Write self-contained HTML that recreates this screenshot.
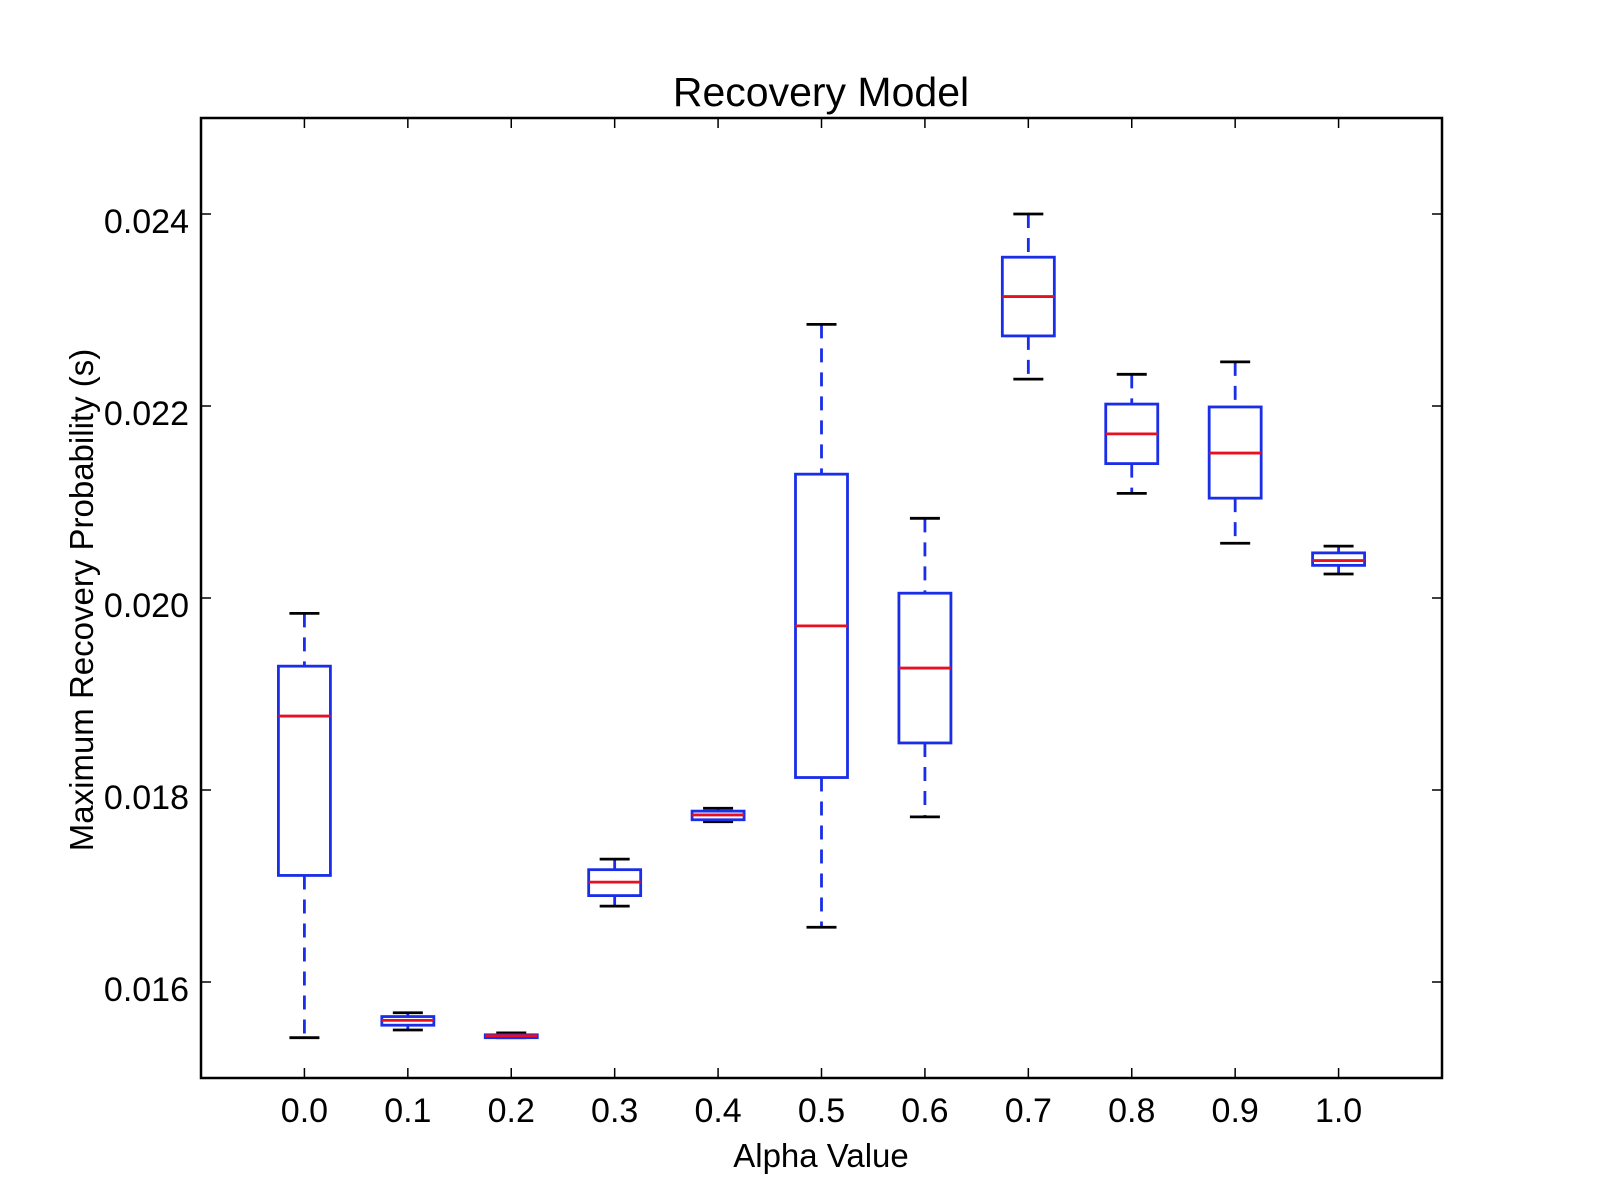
<!DOCTYPE html>
<html><head><meta charset="utf-8"><style>
html,body{margin:0;padding:0;background:#fff;}
svg{display:block;font-family:"Liberation Sans",sans-serif;}
</style></head><body>
<svg id="chart" width="1600" height="1200" viewBox="0 0 1600 1200" xmlns="http://www.w3.org/2000/svg">
<text x="821" y="106" font-size="41" text-anchor="middle">Recovery Model</text>
<text x="821" y="1167" font-size="33" text-anchor="middle">Alpha Value</text>
<text transform="translate(93,600) rotate(-90)" font-size="33" text-anchor="middle">Maximum Recovery Probability (s)</text>
<g id="ticks"></g>
<g id="boxes"></g>
<rect x="201" y="118" width="1241" height="960" fill="none" stroke="#000" stroke-width="2.5"/>
</svg>
<script>
const categories = ["0.0","0.1","0.2","0.3","0.4","0.5","0.6","0.7","0.8","0.9","1.0"];
const whiskerLow = [0.01542,0.01550,0.01542,0.01679,0.01767,0.01657,0.01772,0.02228,0.02109,0.02057,0.02025];
const q1Values   = [0.01711,0.01555,0.01542,0.01690,0.01769,0.01813,0.01849,0.02273,0.02140,0.02104,0.02034];
const medians    = [0.01877,0.01560,0.01544,0.01704,0.01774,0.01971,0.01927,0.02314,0.02171,0.02151,0.02039];
const q3Values   = [0.01929,0.01564,0.01545,0.01717,0.01778,0.02129,0.02005,0.02355,0.02202,0.02199,0.02047];
const whiskerHigh= [0.01984,0.01568,0.01547,0.01728,0.01781,0.02285,0.02083,0.02400,0.02233,0.02246,0.02054];
const yTicks = [0.016,0.018,0.020,0.022,0.024];
const yTickLabels = ["0.016","0.018","0.020","0.022","0.024"];

const L=201,R=1442,T=118,B=1078;
const yMin=0.015,yMax=0.025;
function y(v){return B-(v-yMin)/(yMax-yMin)*(B-T);}
function x(i){return L+(i+1)/(categories.length+1)*(R-L);}
const NS="http://www.w3.org/2000/svg";
function mk(tag,attrs,parent){const e=document.createElementNS(NS,tag);for(const k in attrs)e.setAttribute(k,attrs[k]);parent.appendChild(e);return e;}
const tg=document.getElementById('ticks'), bg=document.getElementById('boxes');

yTicks.forEach((v,i)=>{
  const yy=y(v);
  let a=mk('line',{x1:L,x2:L+10,y1:yy,y2:yy,stroke:'#000','stroke-width':1.5},tg);
  
  
  let b=mk('line',{x1:R-10,x2:R,y1:yy,y2:yy,stroke:'#000','stroke-width':1.5},tg);
  
  
  let t=mk('text',{x:L-12,y:yy+19,'font-size':34,'text-anchor':'end'},tg);
  t.textContent=yTickLabels[i];
  
  
});
categories.forEach((c,i)=>{
  const xx=x(i);
  let a=mk('line',{x1:xx,x2:xx,y1:B,y2:B-10,stroke:'#000','stroke-width':1.5},tg);
  
  
  let b=mk('line',{x1:xx,x2:xx,y1:T,y2:T+10,stroke:'#000','stroke-width':1.5},tg);
  
  
  let t=mk('text',{x:xx,y:B+44,'font-size':34,'text-anchor':'middle'},tg);
  t.textContent=c;
  
  

  const g=mk('g',{},bg);
  
  
  const hw=26, cw=15;
  mk('line',{x1:xx,x2:xx,y1:y(whiskerHigh[i]),y2:y(q3Values[i]),stroke:'#1a2ee8','stroke-width':2.8,'stroke-dasharray':'14,10'},g);
  mk('line',{x1:xx,x2:xx,y1:y(q1Values[i]),y2:y(whiskerLow[i]),stroke:'#1a2ee8','stroke-width':2.8,'stroke-dasharray':'14,10'},g);
  mk('line',{x1:xx-cw,x2:xx+cw,y1:y(whiskerHigh[i]),y2:y(whiskerHigh[i]),stroke:'#000','stroke-width':2.8},g);
  mk('line',{x1:xx-cw,x2:xx+cw,y1:y(whiskerLow[i]),y2:y(whiskerLow[i]),stroke:'#000','stroke-width':2.8},g);
  const yt=y(q3Values[i]), yb=y(q1Values[i]);
  mk('rect',{x:xx-hw,y:yt,width:2*hw,height:Math.max(yb-yt,0.5),fill:'none',stroke:'#1a2ee8','stroke-width':2.8},g);
  mk('line',{x1:xx-hw,x2:xx+hw,y1:y(medians[i]),y2:y(medians[i]),stroke:'#e81020','stroke-width':2.8},g);
});
</script>
</body></html>
